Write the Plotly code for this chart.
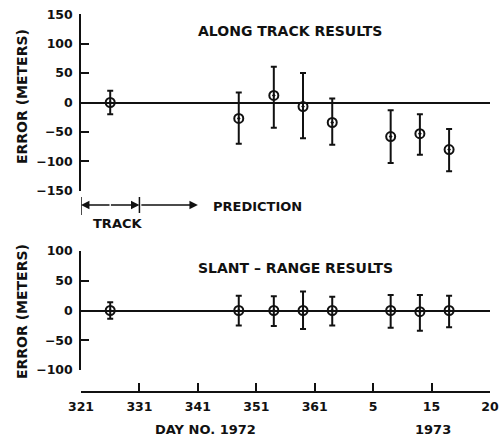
import plotly.graph_objects as go

# ---- data (day numbers; 1973 days continue after 366) ----
days = [326, 348, 354, 359, 364, 374, 379, 384]

along_err = [0, -27, 12, -7, -34, -58, -53, -80]
along_hi = [20, 17, 61, 50, 7, -13, -20, -45]
along_lo = [-20, -70, -43, -61, -72, -103, -89, -117]

slant_err = [0, 0, 0, 0, 0, 0, -2, 0]
slant_hi = [14, 25, 24, 32, 23, 26, 26, 25]
slant_lo = [-14, -25, -26, -31, -25, -29, -34, -28]

x_tickvals = [321, 331, 341, 351, 361, 371, 381, 391]
x_ticktext = ["321", "331", "341", "351", "361", "5", "15", "20"]
top_ticks = [-150, -100, -50, 0, 50, 100, 150]
bot_ticks = [-100, -50, 0, 50, 100]

W, H = 500, 438
def px(x): return x / W
def py(y): return 1 - y / H

FONT = "DejaVu Sans"
BLACK = "#111111"

def err_trace(y, hi, lo, yaxis):
    plus = [h - v for h, v in zip(hi, y)]
    minus = [v - l for l, v in zip(lo, y)]
    return go.Scatter(
        x=days, y=y, yaxis=yaxis, mode="markers",
        marker=dict(symbol="circle-open-dot", size=9, color=BLACK,
                    line=dict(width=2, color=BLACK)),
        error_y=dict(type="data", symmetric=False, array=plus, arrayminus=minus,
                     color=BLACK, thickness=2, width=3),
        showlegend=False, hoverinfo="skip")

fig = go.Figure()
fig.add_trace(err_trace(along_err, along_hi, along_lo, "y"))
fig.add_trace(err_trace(slant_err, slant_hi, slant_lo, "y2"))

axis_common = dict(showgrid=False, showline=True, linecolor=BLACK, linewidth=1.5,
                   ticks="inside", ticklen=8, tickwidth=1.5, tickcolor=BLACK,
                   automargin=False,
                   tickfont=dict(family=FONT, size=12.5, color=BLACK, weight="bold"))

fig.update_layout(
    width=W, height=H, margin=dict(l=0, r=0, t=0, b=0, pad=0, autoexpand=False),
    paper_bgcolor="white", plot_bgcolor="white",
    xaxis=dict(domain=[px(81), px(490)], range=[321, 391], anchor="free",
               position=py(392), tickvals=x_tickvals, ticktext=x_ticktext,
               zeroline=False, ticklabelstandoff=3, **axis_common),
    yaxis=dict(domain=[py(190.7), py(14.3)], range=[-150, 150], anchor="x",
               tickvals=top_ticks, zeroline=True, zerolinecolor=BLACK,
               zerolinewidth=1.5, ticklabelstandoff=4, **axis_common),
    yaxis2=dict(domain=[py(370), py(251)], range=[-100, 100], anchor="x",
                tickvals=bot_ticks, zeroline=True, zerolinecolor=BLACK,
                zerolinewidth=1.5, ticklabelstandoff=4, **axis_common),
)

def label(text, x, y, size=14, angle=0):
    fig.add_annotation(text=text, x=px(x), y=py(y), xref="paper", yref="paper",
                       showarrow=False, textangle=angle, xanchor="center", yanchor="middle",
                       font=dict(family=FONT, size=size, color=BLACK, weight="bold"))

label("ALONG TRACK RESULTS", 290, 31, 14)
label("SLANT – RANGE RESULTS", 295, 268, 14)
label("ERROR (METERS)", 22, 97, 14, -90)
label("ERROR (METERS)", 22, 312, 14, -90)
label("DAY NO. 1972", 205, 429, 13)
label("1973", 433, 429, 13)
label("TRACK", 117, 223, 13)
label("PREDICTION", 257, 206, 13)

# track / prediction bracket
ty = py(205)
fig.add_shape(type="line", xref="x", yref="paper", x0=321, x1=321, y0=py(215), y1=py(197),
              line=dict(color=BLACK, width=1.5))
fig.add_shape(type="line", xref="x", yref="paper", x0=331, x1=331, y0=py(213), y1=py(197),
              line=dict(color=BLACK, width=1.5))
for head, tail in [(321, 30), (331, -30), (341, -58)]:
    fig.add_annotation(x=head, y=ty, xref="x", yref="paper", ax=tail, ay=0,
                       axref="pixel", ayref="pixel", showarrow=True, text="",
                       arrowhead=2, arrowsize=1.3, arrowwidth=1.3, arrowcolor=BLACK)

fig.write_html("out.html")
